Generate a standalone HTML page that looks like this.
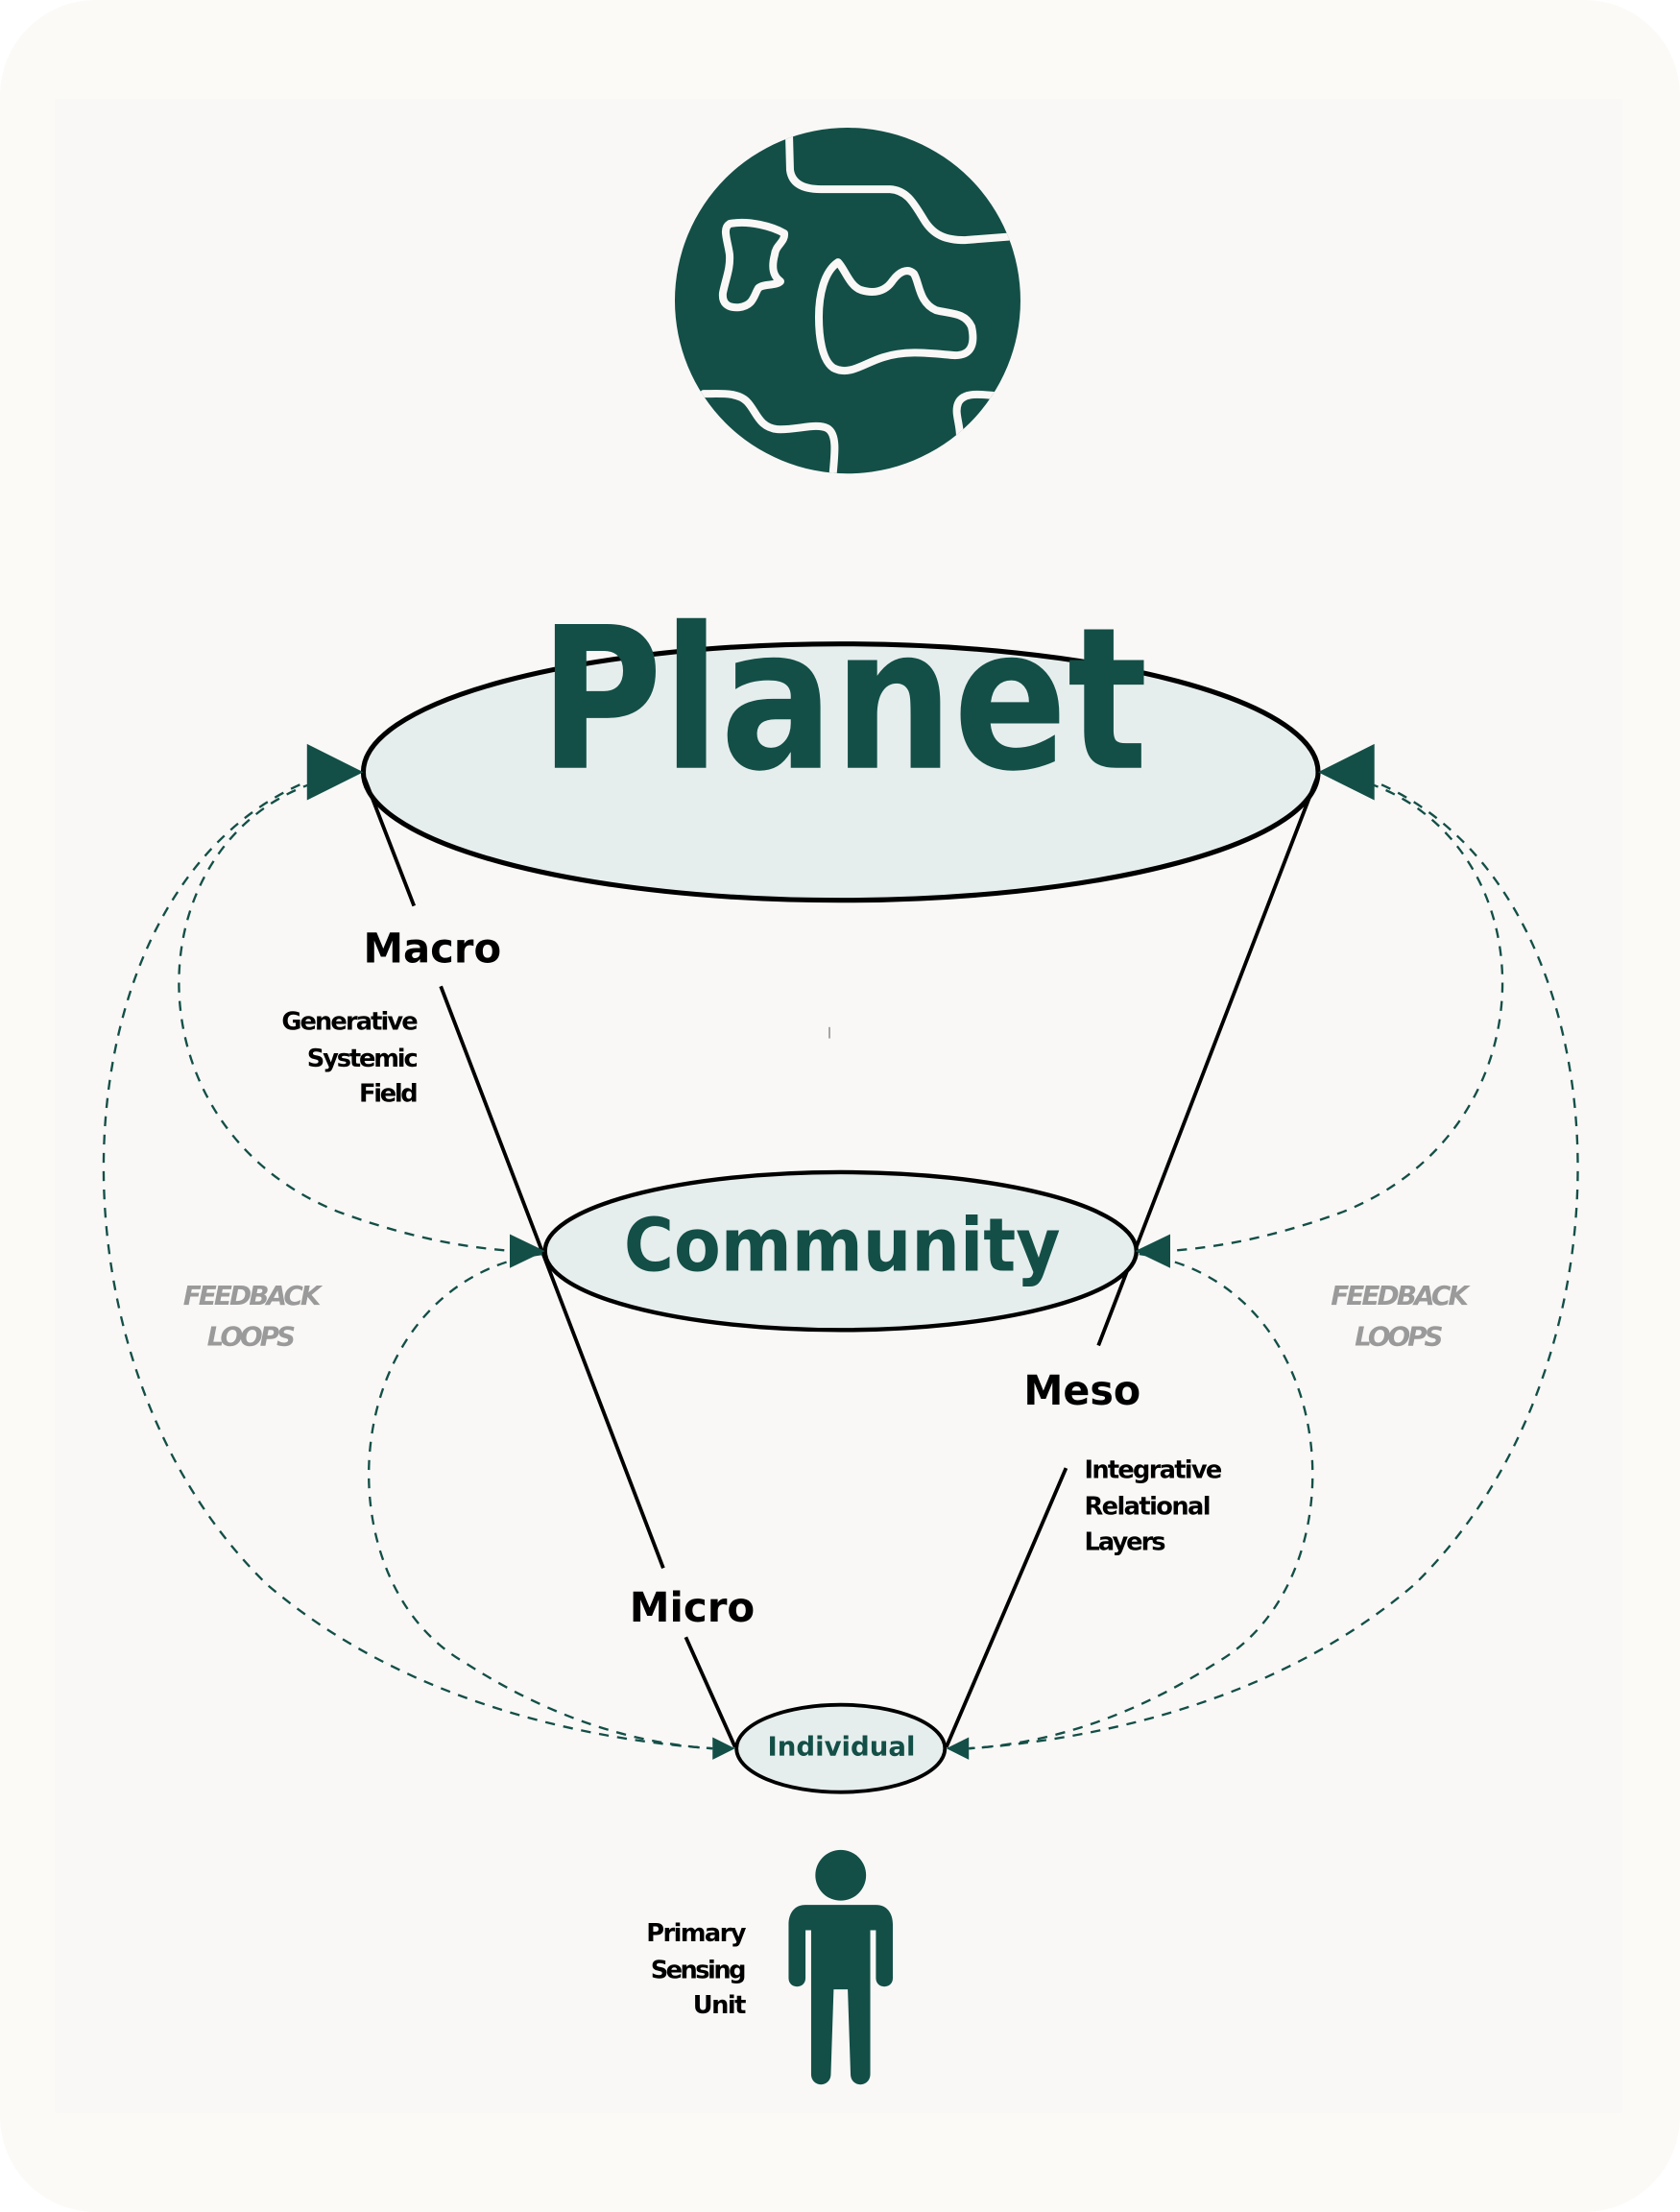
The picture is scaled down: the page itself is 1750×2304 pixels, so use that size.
<!DOCTYPE html>
<html><head><meta charset="utf-8"><style>
html,body{margin:0;padding:0;background:#fff}
svg{display:block}
text{font-family:"DejaVu Sans","Liberation Sans",sans-serif;font-weight:bold}
</style></head><body>
<svg width="1750" height="2304" viewBox="0 0 1193 1570" preserveAspectRatio="none" xmlns="http://www.w3.org/2000/svg">
<defs><clipPath id="gc"><circle cx="883" cy="313" r="180"/></clipPath></defs>
<rect x="0" y="0" width="1193" height="1570" rx="68" fill="#fbfaf7"/>
<rect x="39" y="70" width="1113" height="1430" fill="#f9f8f6"/>
<g transform="scale(0.6817)">
<circle cx="883" cy="313" r="180" fill="#134f47"/>
<g clip-path="url(#gc)" fill="none" stroke="#f9f8f6" stroke-width="8" stroke-linejoin="round" stroke-linecap="round">
<path d="M822,140 L823,177 C825,192 838,197 855,197 L927,197 C945,198 952,212 962,228 C972,245 985,250 1005,250 L1070,245"/>
<path d="M760,233 C780,229 805,236 817,243 C818,252 808,255 807,265 C803,280 806,288 813,293 C808,298 795,295 790,300 C785,308 785,318 770,320 C757,321 752,315 753,305 C756,290 761,280 760,265 C758,250 752,238 760,233 Z"/>
<path d="M873,273 C880,280 885,298 897,302 C910,306 922,304 930,292 C936,284 945,278 952,285 C958,295 957,315 975,323 C990,327 1005,325 1012,340 C1016,358 1012,370 995,370 C970,368 945,364 920,372 C900,378 885,392 868,383 C856,375 853,350 853,330 C853,308 858,283 873,273 Z"/>
<path d="M733,410 C750,410 768,408 778,418 C788,428 790,445 810,447 C830,448 850,440 862,446 C872,452 870,470 867,500"/>
<path d="M1045,413 C1020,410 1003,408 998,420 C994,430 1000,440 1000,455"/>
</g>
</g>
<ellipse cx="597" cy="548" rx="339" ry="91" fill="#e6eeed" stroke="#000" stroke-width="3.5"/>
<text x="383" y="545" font-size="140" fill="#134f47" textLength="432" lengthAdjust="spacingAndGlyphs">Planet</text>
<g stroke="#000" stroke-width="2.6" fill="none">
<line x1="258" y1="550" x2="294" y2="643"/>
<line x1="313" y1="700" x2="471" y2="1113"/>
<line x1="487" y1="1162" x2="522" y2="1240"/>
<line x1="936" y1="550" x2="780" y2="955"/>
<line x1="757" y1="1042" x2="672" y2="1240"/>
</g>
<ellipse cx="597" cy="888" rx="210" ry="56" fill="#e6eeed" stroke="#000" stroke-width="3"/>
<text x="443" y="902" font-size="52" fill="#134f47" textLength="310" lengthAdjust="spacingAndGlyphs">Community</text>
<ellipse cx="597" cy="1241" rx="74" ry="31" fill="#e6eeed" stroke="#000" stroke-width="2.6"/>
<text x="545" y="1246" font-size="19" fill="#134f47" textLength="105" lengthAdjust="spacingAndGlyphs">Individual</text>
<g fill="none" stroke="#134f47" stroke-width="1.6" stroke-dasharray="7,6">
<path d="M225,552 C40,620 20,960 190,1125 C290,1210 420,1235 506,1241"/>
<path d="M222,556 C95,600 90,800 240,860 C300,882 340,886 365,888"/>
<path d="M385,890 C240,910 225,1120 330,1180 C400,1225 460,1238 506,1241"/>
<path d="M969,552 C1154,620 1174,960 1004,1125 C904,1210 774,1235 688,1241"/>
<path d="M972,556 C1099,600 1104,800 954,860 C894,882 854,886 829,888"/>
<path d="M809,890 C954,910 969,1120 864,1180 C794,1225 734,1238 688,1241"/>
</g>
<g fill="#134f47">
<polygon points="258,548 218,528 218,568"/>
<polygon points="936,548 976,528 976,568"/>
<polygon points="387,888 362,876 362,900"/>
<polygon points="806,888 831,876 831,900"/>
<polygon points="522,1241 506,1233 506,1249"/>
<polygon points="672,1241 688,1233 688,1249"/>
</g>
<g fill="#000">
<text x="258" y="683" font-size="29" textLength="98" lengthAdjust="spacingAndGlyphs">Macro</text>
<text x="447" y="1151" font-size="29" textLength="89" lengthAdjust="spacingAndGlyphs">Micro</text>
<text x="727" y="997" font-size="29" textLength="83" lengthAdjust="spacingAndGlyphs">Meso</text>
<g font-size="17.5" lengthAdjust="spacingAndGlyphs">
<text x="200" y="731" textLength="97">Generative</text>
<text x="218" y="757" textLength="79">Systemic</text>
<text x="255" y="782" textLength="42">Field</text>
<text x="459" y="1378" textLength="71">Primary</text>
<text x="462" y="1404" textLength="68">Sensing</text>
<text x="492" y="1429" textLength="38">Unit</text>
<text x="770" y="1049" textLength="98">Integrative</text>
<text x="770" y="1075" textLength="90">Relational</text>
<text x="770" y="1100" textLength="58">Layers</text>
</g>
</g>
<g fill="#9a9a9a" font-size="19" font-style="italic" lengthAdjust="spacingAndGlyphs">
<text x="130" y="926" textLength="98">FEEDBACK</text>
<text x="147" y="955" textLength="63">LOOPS</text>
<text x="945" y="926" textLength="98">FEEDBACK</text>
<text x="962" y="955" textLength="63">LOOPS</text>
</g>
<line x1="589" y1="729" x2="589" y2="737" stroke="#888" stroke-width="1"/>
<g fill="#134f47">
<circle cx="597" cy="1331" r="18"/>
<path d="M572,1352 L622,1352 C630,1352 634,1358 634,1366 L634,1404 C634,1412 622,1412 622,1404 L622,1370 L618,1370 L618,1472 C618,1482 604,1482 604,1472 L602,1412 L592,1412 L590,1472 C590,1482 576,1482 576,1472 L576,1370 L572,1370 L572,1404 C572,1412 560,1412 560,1404 L560,1366 C560,1358 564,1352 572,1352 Z"/>
</g>
</svg>
</body></html>
